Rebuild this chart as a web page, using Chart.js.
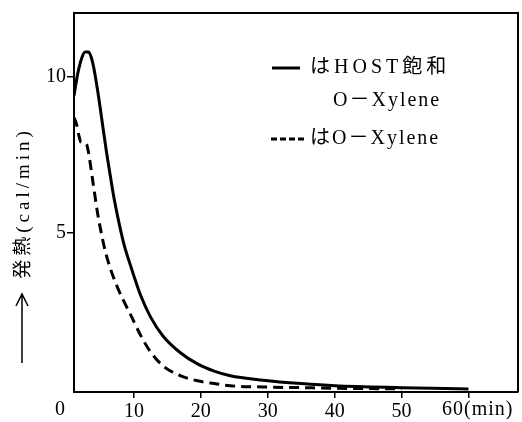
<!DOCTYPE html>
<html>
<head>
<meta charset="utf-8">
<script src="https://cdn.jsdelivr.net/npm/chart.js@4/dist/chart.umd.min.js"></script>
<style>
  body { margin: 0; background: #fff; }
  #box { width: 522px; height: 422px; }
</style>
</head>
<body>
<div id="box"><canvas id="myChart" width="522" height="422"></canvas></div>
<script>
// time (min) and heat (cal/min)
const solidTime = [1.05, 1.6, 2.2, 2.7, 3.2, 3.6, 4.0, 4.7, 5.3, 5.9, 6.5, 7.0, 7.6, 8.5, 9.5, 10.0, 11.0, 12.5, 14.4, 17.0, 19.5, 22, 24.4, 29.3, 35, 40, 50, 60];
const solidHeat = [9.4, 10.1, 10.6, 10.8, 10.8, 10.65, 10.3, 9.4, 8.5, 7.6, 6.8, 6.15, 5.5, 4.65, 3.95, 3.62, 3.0, 2.3, 1.68, 1.15, 0.80, 0.57, 0.42, 0.28, 0.17, 0.10, 0.04, 0.0];

const dashedTime = [1.05, 1.4, 1.8, 2.1, 2.9, 3.2, 3.9, 4.6, 5.2, 5.8, 6.5, 7.3, 8.4, 9.5, 11.0, 12.5, 14.4, 17.0, 19.5, 22, 24.4, 29.3, 35, 40, 50];
const dashedHeat = [8.7, 8.5, 8.1, 7.9, 7.85, 7.6, 6.6, 5.6, 4.92, 4.35, 3.85, 3.38, 2.85, 2.38, 1.72, 1.18, 0.73, 0.42, 0.26, 0.17, 0.10, 0.06, 0.04, 0.02, 0.0];

const xTicks = [10, 20, 30, 40, 50, 60];
const yTicks = [5, 10];

const legendLabels = ['はHOST飽和', 'O－Xylene', 'はO－Xylene'];
const yTitle = '発熱(cal/min)';

const serif = '"Liberation Serif", "DejaVu Serif", "Noto Sans CJK JP", serif';

function points(xs, ys) {
  return xs.map((x, i) => ({ x: x, y: ys[i] }));
}

// frame, axis title, extra labels and legend drawn on top
const decorations = {
  id: 'decorations',
  afterDraw(chart) {
    const ctx = chart.ctx;
    const a = chart.chartArea;
    ctx.save();
    ctx.strokeStyle = '#000';
    ctx.fillStyle = '#000';

    // top + right of frame
    ctx.lineWidth = 2;
    ctx.beginPath();
    ctx.moveTo(a.left, a.top);
    ctx.lineTo(a.right, a.top);
    ctx.lineTo(a.right, a.bottom);
    ctx.stroke();

    // "0" at the corner and "60(min)"
    ctx.font = '20px ' + serif;
    ctx.textBaseline = 'middle';
    ctx.textAlign = 'center';
    ctx.fillText('0', 60, 410);
    ctx.textAlign = 'left';
    ctx.letterSpacing = '1px';
    ctx.fillText('60(min)', 442, 410);

    // y title, rotated
    ctx.save();
    ctx.translate(24, 203);
    ctx.rotate(-Math.PI / 2);
    ctx.font = '19px ' + serif;
    ctx.letterSpacing = '4px';
    ctx.textAlign = 'center';
    ctx.fillText(yTitle, 0, 0);
    ctx.restore();

    // arrow below the title
    ctx.lineWidth = 1.5;
    ctx.beginPath();
    ctx.moveTo(22, 363);
    ctx.lineTo(22, 294);
    ctx.moveTo(16, 306);
    ctx.lineTo(22, 294);
    ctx.lineTo(28, 306);
    ctx.stroke();

    // legend
    ctx.lineWidth = 3;
    ctx.setLineDash([]);
    ctx.beginPath();
    ctx.moveTo(272, 68);
    ctx.lineTo(300, 68);
    ctx.stroke();
    ctx.setLineDash([6, 3]);
    ctx.beginPath();
    ctx.moveTo(271, 139);
    ctx.lineTo(307, 139);
    ctx.stroke();
    ctx.setLineDash([]);

    ctx.font = '20px ' + serif;
    ctx.textAlign = 'left';
    ctx.letterSpacing = '4px';
    ctx.fillText(legendLabels[0], 310, 68);
    ctx.letterSpacing = '2px';
    ctx.fillText(legendLabels[1], 333, 101);
    ctx.fillText(legendLabels[2], 310, 139);
    ctx.restore();
  }
};

const ctx = document.getElementById('myChart');

new Chart(ctx, {
  type: 'line',
  data: {
    datasets: [
      {
        data: points(solidTime, solidHeat),
        borderColor: '#000',
        borderWidth: 3,
        pointRadius: 0,
        cubicInterpolationMode: 'monotone'
      },
      {
        data: points(dashedTime, dashedHeat),
        borderColor: '#000',
        borderWidth: 3,
        borderDash: [10, 6],
        pointRadius: 0,
        cubicInterpolationMode: 'monotone'
      }
    ]
  },
  options: {
    responsive: false,
    animation: false,
    layout: { padding: { top: 13, right: 4, left: 0, bottom: 0 } },
    plugins: { legend: { display: false }, tooltip: { enabled: false } },
    scales: {
      x: {
        type: 'linear',
        min: 1.05,
        max: 67.4,
        afterBuildTicks: (s) => { s.ticks = xTicks.map(v => ({ value: v })); },
        afterFit: (s) => { s.height = 30; },
        grid: { drawOnChartArea: false, tickLength: 6, color: '#000', lineWidth: 1.5 },
        border: { color: '#000', width: 2 },
        ticks: {
          color: '#000',
          padding: 2,
          font: { family: serif, size: 20 },
          callback: (v) => (v === 60 ? '' : v)
        }
      },
      y: {
        min: -0.1,
        max: 12.05,
        afterBuildTicks: (s) => { s.ticks = yTicks.map(v => ({ value: v })); },
        afterFit: (s) => { s.width = 74; },
        grid: { drawOnChartArea: false, tickLength: 7, color: '#000', lineWidth: 1.5 },
        border: { color: '#000', width: 2 },
        ticks: {
          color: '#000',
          padding: 1,
          font: { family: serif, size: 20 }
        }
      }
    }
  },
  plugins: [decorations]
});
</script>
</body>
</html>
